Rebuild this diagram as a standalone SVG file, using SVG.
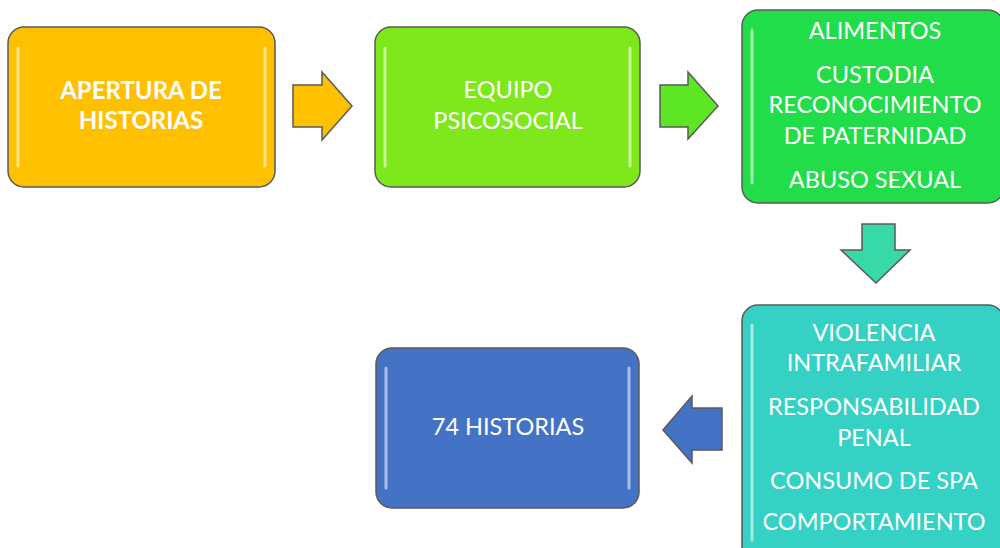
<svg xmlns="http://www.w3.org/2000/svg" width="1000" height="548" viewBox="0 0 1000 548">
<style>
.box{stroke:#5a5a5a;stroke-width:1.5}
.hl{fill:none;stroke:#ffffff;stroke-opacity:0.55;stroke-width:3;stroke-linecap:round}
.t{font-family:Lato,"Open Sans","Liberation Sans",sans-serif;font-size:23.5px;fill:#ffffff;text-anchor:middle;dominant-baseline:central}
.b{font-weight:bold;font-size:24px}
.arr{stroke:#5a5a5a;stroke-width:1.5;stroke-linejoin:miter}
</style>
<rect width="1000" height="548" fill="#ffffff"/>
<g id="n1">
<rect class="box" x="8" y="27" width="267" height="160" rx="16" fill="#FFC000"/>
<path class="hl" d="M18 48 V166 M265 48 V166"/>
<text class="t b" x="141" y="89">APERTURA DE</text>
<text class="t b" x="141" y="119">HISTORIAS</text>
</g>
<g id="n2">
<rect class="box" x="375" y="27" width="265" height="160" rx="16" fill="#7FE81D"/>
<path class="hl" d="M385 48 V166 M630 48 V166"/>
<text class="t" x="508" y="89">EQUIPO</text>
<text class="t" x="508" y="120">PSICOSOCIAL</text>
</g>
<g id="n3">
<rect class="box" x="742" y="10" width="262" height="193" rx="16" fill="#22DD4A"/>
<path class="hl" d="M752 30 V183"/>
<text class="t" x="875" y="30">ALIMENTOS</text>
<text class="t" x="875" y="74">CUSTODIA</text>
<text class="t" x="875" y="104">RECONOCIMIENTO</text>
<text class="t" x="875" y="135">DE PATERNIDAD</text>
<text class="t" x="875" y="179">ABUSO SEXUAL</text>
</g>
<g id="n4">
<rect class="box" x="742" y="305" width="262" height="260" rx="16" fill="#35D1C4"/>
<path class="hl" d="M752 325 V540"/>
<text class="t" x="874" y="332">VIOLENCIA</text>
<text class="t" x="874" y="362">INTRAFAMILIAR</text>
<text class="t" x="874" y="406">RESPONSABILIDAD</text>
<text class="t" x="874" y="437">PENAL</text>
<text class="t" x="874" y="480">CONSUMO DE SPA</text>
<text class="t" x="874" y="521">COMPORTAMIENTO</text>
</g>
<g id="n5">
<rect class="box" x="376" y="348" width="263" height="160" rx="16" fill="#4472C4"/>
<path class="hl" d="M386 368 V488 M629 368 V488"/>
<text class="t" x="508" y="426">74 HISTORIAS</text>
</g>
<g id="connectors">
<path class="arr" fill="#FFC000" d="M293 85 H322 V72 L352 106 L322 140 V127 H293 Z"/>
<path class="arr" fill="#5CE623" d="M660 85 H688 V72 L718 106 L688 139 V127 H660 Z"/>
<path class="arr" fill="#38D9A8" d="M862 224 H895 V250 H910 L876 283 L841 250 H862 Z"/>
<path class="arr" fill="#4472C4" d="M722 408 H692 V396 L663 430 L692 463 V450 H722 Z"/>
</g>
</svg>
